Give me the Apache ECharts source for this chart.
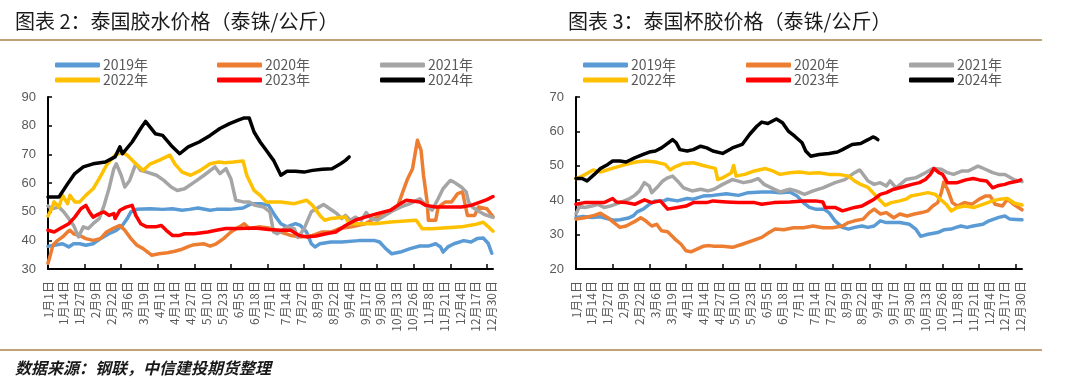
<!DOCTYPE html>
<html>
<head>
<meta charset="utf-8">
<script src="https://cdn.jsdelivr.net/npm/echarts@6/dist/echarts.min.js"></script>
<style>
html,body{margin:0;padding:0;background:#fff;}
#chart{width:1080px;height:381px;}
</style>
</head>
<body>
<div id="chart"></div>
<script>
// ---- Data (day index in a leap year, value) ----
const seriesNames = ['2019年','2020年','2021年','2022年','2023年','2024年'];
const seriesColors = ['#5B9BD5','#ED7D31','#A5A5A5','#FFC000','#FF0000','#000000'];
const monthDays = [31,29,31,30,31,30,31,31,30,31,30,31];

// Left chart: 泰国胶水价格
const latex2019 = [[0,37.9],[5,38.3],[12,38.8],[17,37.7],[21,38.8],[26,38.8],[31,38.3],[37,38.8],[43,40.6],[50,42.3],[56,43.5],[61,45.2],[65,47.6],[68,49.9],[73,50.8],[84,51],[94,50.8],[102,51],[110,50.5],[116,50.8],[123,51.3],[133,50.5],[138,50.8],[149,50.8],[160,51.3],[167,52.8],[175,52.8],[181,52.2],[186,48.7],[191,45.8],[196,44.7],[203,45.8],[207,45.2],[212,42.9],[216,38.8],[219,37.7],[223,38.8],[232,39.4],[241,39.4],[255,39.9],[268,39.9],[272,39.4],[277,37.1],[282,35.3],[289,35.9],[297,37.1],[305,38],[312,38],[318,38.8],[322,37.7],[324,35.9],[328,37.7],[333,38.8],[341,39.9],[347,39.4],[352,40.6],[357,40.8],[361,39],[364,35.5]];
const latex2020 = [[0,32],[2,35],[4,38.3],[8,40],[12,41.2],[16,42.9],[18,43.5],[21,42.3],[26,41.7],[31,40.6],[37,40],[43,40.6],[48,42.9],[54,44.3],[59,45.2],[63,43.5],[68,40.6],[73,38.3],[78,37.1],[85,34.8],[91,35.3],[98,35.7],[104,36.2],[110,36.9],[116,38],[120,38.5],[128,38.8],[133,38],[138,38.8],[144,40.6],[150,42.9],[157,44.7],[161,45.8],[165,44.1],[173,44.7],[181,44.3],[191,42.9],[199,41.7],[207,41.2],[217,41.7],[225,42.9],[232,42.9],[239,44.1],[249,44.7],[260,45.8],[270,48.1],[281,50.5],[287,52.2],[291,56.9],[295,61.5],[299,65],[303,74.9],[306,71.4],[308,62.7],[311,53.4],[312,47],[318,47],[320,51.6],[326,53.4],[331,53.4],[336,56.3],[340,56.9],[344,48.7],[350,48.7],[353,51.6],[360,51],[365,48.3]];
const latex2021 = [[0,52],[3,51],[9,51.6],[13,49.9],[17,47.6],[21,45.2],[25,41.2],[29,44.7],[33,44.1],[37,45.8],[42,47.6],[46,52.2],[50,58],[54,65],[56,66.7],[60,62.7],[63,58.6],[67,60.9],[72,66.7],[76,64.4],[81,63.8],[89,62.7],[95,60.9],[101,58.6],[106,57.4],[112,58],[120,60.3],[128,62.7],[137,65.6],[141,63.3],[146,65],[150,61.5],[154,54],[160,53.4],[165,53.4],[170,52.2],[177,51.6],[182,49.9],[185,42.9],[188,42.3],[196,44.7],[202,44.1],[205,41],[210,44],[216,50],[222,51.5],[226,52.5],[233,50.5],[237,49.3],[241,47.6],[244,48.7],[248,47],[252,48.1],[257,47],[261,49.7],[265,47.6],[270,47],[281,49.9],[289,51.6],[297,52.8],[305,54.5],[310,52.2],[315,50.5],[320,54.5],[324,58],[330,60.9],[333,60.3],[339,58.6],[343,56.9],[345,53.4],[348,51.6],[352,50.5],[358,49],[365,48]];
const latex2022 = [[0,48.5],[3,51],[5,53.4],[9,51.6],[12,55.7],[16,52.8],[18,55.7],[22,53.4],[26,53.4],[31,55.7],[37,58],[42,61.5],[48,66.2],[55,69.7],[61,70.8],[65,69.7],[72,66.7],[78,64.4],[84,66.7],[91,67.9],[100,69.7],[104,66.7],[110,63.8],[117,62.7],[125,64.4],[133,66.7],[140,67.3],[145,67.1],[152,67.3],[160,67.7],[163,62.7],[169,57.4],[174,55.7],[179,53.4],[191,53.4],[202,52.8],[212,54],[217,52.2],[223,48.7],[227,47],[232,47.6],[244,48.1],[247,45.8],[268,45.8],[281,46.4],[302,47],[307,44],[315,44],[339,44.7],[350,45.5],[357,46.3],[361,44.8],[365,43.2]];
const latex2023 = [[0,43.5],[5,42.9],[10,44.1],[17,45.8],[22,48.1],[27,51],[31,52.2],[34,49.9],[37,48.1],[42,49.3],[46,49.9],[50,48.7],[54,49.3],[55,47.6],[59,50.5],[64,51.6],[69,52.2],[72,48.7],[76,45.8],[81,44.7],[88,44.7],[93,45.2],[97,43.5],[102,41.7],[108,41.7],[112,42.3],[120,42.3],[131,42.9],[138,43.5],[146,44.1],[157,44.1],[170,44.3],[181,43.8],[191,43.5],[199,43.5],[206,41.7],[212,41.2],[220,41.5],[228,42.3],[236,42.9],[244,45.2],[252,47],[260,48.1],[270,49.3],[281,50.5],[289,52.8],[294,54],[305,53.4],[310,52.2],[318,51.6],[328,51.6],[339,51.6],[347,52.2],[355,53.4],[360,54.2],[365,55.3]];
const latex2024 = [[0,55.1],[9,55.1],[17,60.3],[22,63.3],[29,65.6],[37,66.7],[47,67.3],[55,69.1],[59,72.6],[61,70.2],[69,74.3],[76,79],[80,81.5],[88,77.2],[94,76.6],[101,73.1],[108,70.2],[115,72.6],[124,74.3],[133,76.6],[141,79],[149,80.7],[156,81.9],[161,82.7],[165,82.7],[169,77.8],[174,74.3],[179,71.4],[185,67.9],[191,62.7],[196,64.1],[203,64.1],[210,63.8],[217,64.4],[225,64.8],[233,65],[240,66.7],[244,67.9],[247,69.1]];

// Right chart: 泰国杯胶价格
const cup2019 = [[0,35],[6,35.3],[13,35],[20,35.2],[26,34.6],[31,34.2],[36,34.3],[43,34.8],[47,35.5],[50,36.6],[55,37.4],[60,38.8],[65,39.8],[72,39.8],[75,40.3],[83,39.8],[91,40.5],[96,40.3],[104,41.2],[112,41.4],[123,41.9],[133,41.4],[141,42.2],[152,42.4],[160,42.4],[167,42.2],[175,42.4],[181,41.2],[186,39.3],[191,37.9],[196,37.4],[203,37.4],[207,36.4],[212,34],[218,32.1],[223,31.6],[228,32.1],[234,32.5],[239,32.1],[244,32.5],[249,34],[254,33.5],[265,33.5],[273,33],[278,31.6],[282,29.5],[288,30.1],[296,30.6],[301,31.4],[307,31.6],[311,32.1],[315,32.5],[320,32.1],[325,32.5],[333,33],[338,34],[346,35],[351,35.4],[355,34.5],[360,34.4],[365,34.3]];
const cup2020 = [[0,34.5],[7,34.9],[15,35.6],[20,36.2],[26,34.9],[31,33.5],[36,32.1],[41,32.5],[49,34],[53,34.9],[57,34],[62,32.5],[66,33],[70,31.1],[75,30.8],[81,28.7],[86,27.2],[90,25.3],[94,25],[99,25.8],[104,26.6],[109,26.8],[113,26.6],[120,26.6],[128,26.3],[136,27.2],[144,28.2],[152,29.2],[158,30.6],[163,31.6],[170,31.4],[178,32],[186,32],[194,32.5],[202,32],[210,32],[218,32.5],[223,33.5],[228,34],[235,34.5],[240,36.4],[244,37.4],[249,36],[254,36.4],[260,34.9],[265,36],[271,35.4],[277,36],[283,36.4],[288,36.9],[292,38.3],[296,39.3],[299,42.2],[301,45.3],[304,43.2],[308,39.3],[312,38.3],[318,39.3],[324,38.8],[330,40.3],[335,41.2],[339,41.2],[343,38.8],[349,38.3],[353,40.3],[359,38.6],[365,37.2]];
const cup2021 = [[0,36],[1,36.4],[3,38.3],[7,37.9],[13,38.3],[18,38.8],[23,37.9],[28,38.3],[36,39.3],[43,40.3],[48,41.4],[52,42.7],[56,45.1],[60,44.1],[62,42.2],[66,43.6],[71,45.6],[75,46.5],[79,47],[83,45.6],[88,43.6],[95,42.7],[102,43.2],[108,42.7],[113,43.2],[120,44.6],[128,46],[132,45.6],[137,45.1],[144,45.6],[149,46.3],[154,44.6],[162,43.2],[167,42.4],[175,43.2],[180,42.7],[187,41.7],[194,42.7],[202,43.6],[212,45.1],[220,46],[228,48],[232,48.8],[234,48],[239,45.6],[244,44.6],[249,45.1],[254,44.1],[257,45.6],[262,43.6],[270,46],[278,46.5],[286,48],[292,49.2],[299,49],[304,48],[309,47.5],[316,48.5],[321,48.5],[329,49.9],[335,49],[341,48],[346,47.5],[351,47.5],[359,45.9],[365,45.4]];
const cup2022 = [[0,46.3],[5,47],[10,48],[14,48.8],[20,48.2],[31,49.4],[41,50.4],[49,51.1],[57,51.4],[65,51.1],[73,50.4],[77,48.8],[81,49.7],[88,50.7],[96,50.9],[104,50.1],[112,49.4],[114,49.2],[116,46],[120,46.5],[127,47.9],[129,50.1],[131,47],[138,47.5],[146,48.5],[155,49.2],[161,48.5],[167,47.5],[175,48],[183,48.2],[191,47.8],[199,48],[207,47.5],[215,47.5],[223,47],[228,45.6],[233,44.6],[239,43.7],[243,42.2],[248,40.3],[253,38.5],[258,39.3],[265,39.8],[270,40.3],[274,41.2],[281,41.7],[288,42.2],[294,41.7],[298,40.3],[303,38.8],[307,36.9],[312,37.9],[318,38.3],[326,37.9],[333,38.8],[341,39.8],[347,40.3],[353,40.5],[359,39.1],[365,38.6]];
const cup2023 = [[0,38.8],[7,39.3],[15,39.3],[23,39.3],[30,40.5],[33,39.5],[41,39.3],[48,38.8],[56,40.1],[62,39.3],[69,39.8],[75,37.4],[83,37.9],[90,38.3],[96,39.3],[107,39.3],[112,39.8],[123,39.5],[133,39.3],[146,39.3],[152,38.8],[162,39.3],[175,39.5],[186,39.8],[196,39.8],[202,39.5],[204,37.9],[212,37.9],[218,36.9],[223,37.4],[228,37.9],[234,38.3],[239,39.3],[244,40.3],[249,41.7],[254,42.2],[260,43.2],[268,43.9],[275,44.6],[281,45.1],[286,46],[290,47.5],[293,49.2],[297,48],[300,47.5],[304,45.1],[312,45.1],[319,45.9],[325,46.3],[330,45.9],[336,45.6],[341,43.6],[346,44.3],[351,44.6],[355,45.1],[361,45.5],[364,45.9]];
const cup2024 = [[0,46.3],[5,46.3],[9,45.6],[15,47.5],[20,49.2],[26,50.4],[30,51.4],[36,51.4],[41,51.1],[48,52.3],[55,53.3],[60,54],[65,54.3],[70,55.2],[75,56.5],[79,57.6],[82,56.7],[85,54.7],[91,54.3],[96,54.7],[102,55.7],[107,55.2],[112,54.3],[120,53.6],[128,55.2],[136,56.2],[142,59.1],[148,61.5],[152,62.7],[157,62.3],[164,63.6],[169,62.5],[174,60],[179,58.6],[185,56.7],[188,54.3],[192,52.8],[199,53.3],[207,53.6],[214,54],[218,54.7],[226,56.2],[233,56.5],[239,57.6],[243,58.4],[245,58.1],[247,57.6]];

const leftData = [latex2019, latex2020, latex2021, latex2022, latex2023, latex2024];
const rightData = [cup2019, cup2020, cup2021, cup2022, cup2023, cup2024];

// Category labels: every day of the year (leap year)
const dayLabels = [];
monthDays.forEach((n, m) => { for (let d = 1; d <= n; d++) dayLabels.push((m + 1) + '月' + d + '日'); });

const gray = '#595959';
const fontCJK = '"Noto Sans CJK SC", "Liberation Sans", sans-serif';

function xAxis(gi) {
  return {
    type: 'category', gridIndex: gi, data: dayLabels, boundaryGap: false,
    axisLine: { lineStyle: { color: '#000', width: 2 } },
    axisTick: { inside: true, length: 5, interval: 29, lineStyle: { color: '#000', width: 1.5 } },
    axisLabel: { interval: 12, rotate: 90, margin: 12, color: gray, fontSize: 12, fontFamily: fontCJK },
    splitLine: { show: false }
  };
}
function yAxis(gi, min, max) {
  return {
    type: 'value', gridIndex: gi, min: min, max: max, interval: 10,
    axisLine: { show: true, lineStyle: { color: '#000', width: 2 } },
    axisTick: { show: true, inside: true, length: 4, lineStyle: { color: '#000', width: 1.5 } },
    axisLabel: { margin: 12, color: gray, fontSize: 13, fontFamily: '"Liberation Sans", Arial, sans-serif' },
    splitLine: { show: false }
  };
}

const series = [];
[leftData, rightData].forEach((set, gi) => {
  set.forEach((d, i) => {
    series.push({
      name: seriesNames[i], type: 'line', xAxisIndex: gi, yAxisIndex: gi,
      data: d, showSymbol: false, symbol: 'none', smooth: false,
      color: seriesColors[i],
      lineStyle: { color: seriesColors[i], width: 3.5, cap: 'round', join: 'round' },
      emphasis: { disabled: true }, animation: false
    });
  });
});

const legendCols = [[55, 217, 380], [583, 746, 909]];
const legendRows = [58, 73];
const legends = [];
legendCols.forEach(cols => {
  seriesNames.forEach((nm, i) => {
    legends.push({
      data: [nm], left: cols[i % 3], top: legendRows[Math.floor(i / 3)],
      icon: 'roundRect', itemWidth: 45, itemHeight: 5, itemGap: 4, padding: 0,
      textStyle: { color: gray, fontSize: 14, fontFamily: fontCJK, padding: [0, 0, 0, -2] },
      selectedMode: false
    });
  });
});

const chart = echarts.init(document.getElementById('chart'), null, { renderer: 'canvas' });
chart.setOption({
  animation: false,
  backgroundColor: '#fff',
  title: [
    { text: '图表 2：泰国胶水价格（泰铢/公斤）', left: 15, top: 11, padding: 0,
      textStyle: { fontSize: 20, fontWeight: 'normal', color: '#1a1a1a', fontFamily: fontCJK } },
    { text: '图表 3：泰国杯胶价格（泰铢/公斤）', left: 568, top: 11, padding: 0,
      textStyle: { fontSize: 20, fontWeight: 'normal', color: '#1a1a1a', fontFamily: fontCJK } }
  ],
  legend: legends,
  grid: [
    { left: 48, top: 97, width: 445, height: 172 },
    { left: 576, top: 97, width: 446, height: 172 }
  ],
  xAxis: [xAxis(0), xAxis(1)],
  yAxis: [yAxis(0, 30, 90), yAxis(1, 20, 70)],
  series: series,
  graphic: [
    { type: 'line', shape: { x1: 0, y1: 40, x2: 1042, y2: 40 }, style: { stroke: '#BFA275', lineWidth: 2 } },
    { type: 'line', shape: { x1: 0, y1: 350, x2: 1042, y2: 350 }, style: { stroke: '#BFA275', lineWidth: 2 } },
    { type: 'text', left: 15, top: 360,
      style: { text: '数据来源：钢联，中信建投期货整理', fontSize: 16, fontWeight: 'bold', fontStyle: 'italic', fontFamily: fontCJK, fill: '#1a1a1a' } }
  ]
});
</script>
</body>
</html>
